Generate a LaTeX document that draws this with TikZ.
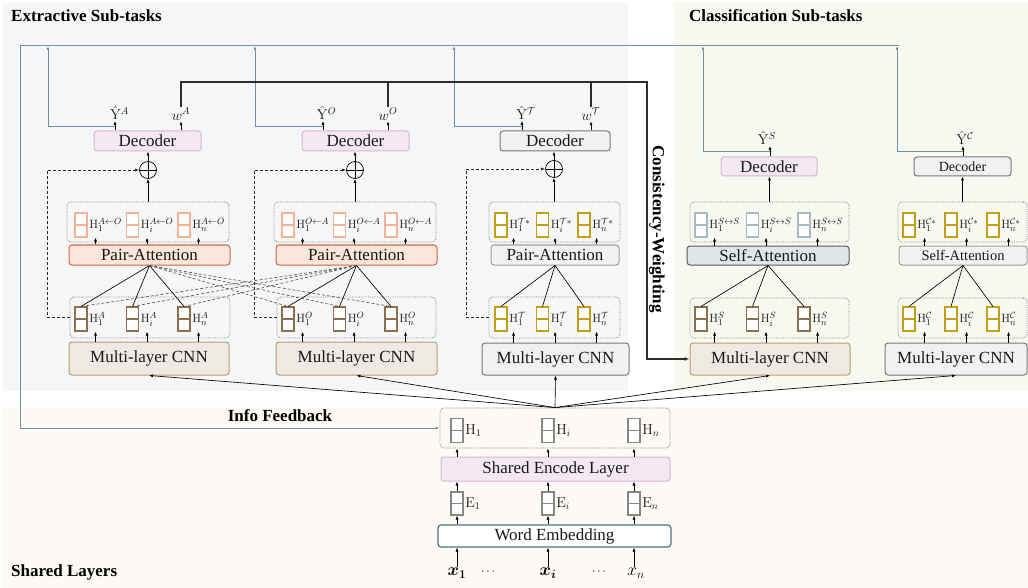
\documentclass[tikz,border=0pt]{standalone}
\usepackage{amsmath}
\usepackage[no-math]{fontspec}
\setmainfont{Liberation Serif}
\usetikzlibrary{arrows.meta,calc}

\definecolor{bgE}{RGB}{244,246,248}
\definecolor{bgC}{RGB}{246,249,239}
\definecolor{bgS}{RGB}{253,249,245}
\definecolor{pinkF}{RGB}{243,231,241}
\definecolor{pinkD}{RGB}{216,182,210}
\definecolor{grayF}{RGB}{241,241,241}
\definecolor{grayD}{RGB}{120,120,120}
\definecolor{lgrayD}{RGB}{160,160,160}
\definecolor{paF}{RGB}{250,229,219}
\definecolor{paD}{RGB}{204,104,64}
\definecolor{cnnF}{RGB}{238,234,227}
\definecolor{cnnD}{RGB}{186,156,112}
\definecolor{saF}{RGB}{225,229,232}
\definecolor{saD}{RGB}{85,90,95}
\definecolor{cBrown}{RGB}{140,112,78}
\definecolor{cSalmon}{RGB}{244,178,148}
\definecolor{cGold}{RGB}{196,158,20}
\definecolor{cBlue}{RGB}{168,184,198}
\definecolor{cGray}{RGB}{135,135,135}
\definecolor{weD}{RGB}{82,116,126}
\definecolor{fbC}{RGB}{112,146,156}
\definecolor{cwC}{RGB}{45,45,45}
\definecolor{txt}{RGB}{25,25,25}

\begin{document}
\begin{tikzpicture}[x=1pt,y=-1pt,
  box/.style={draw, rounded corners=3pt, line width=1pt, inner sep=0pt, text=txt, font=\fontsize{17}{20}\selectfont},
  dbox/.style={draw=cGray, densely dotted, line width=0.8pt, rounded corners=4pt, inner sep=0pt},
  cell/.style={draw=#1, fill=white, line width=1.1pt, minimum width=12pt, minimum height=24pt, inner sep=0pt,
    path picture={\draw[#1, line width=1.1pt] (path picture bounding box.west) -- (path picture bounding box.east);}},
  hl/.style={inner sep=0.5pt, text=txt, font=\fontsize{12.5}{14}\selectfont},
  sl/.style={inner sep=1pt, text=txt, font=\fontsize{14.4}{16}\selectfont},
  title/.style={font=\bfseries\fontsize{17}{20}\selectfont, text=black, inner sep=0pt},
  arr/.style={-{Latex[length=4pt,width=3pt]}, line width=0.65pt, black},
  ln/.style={line width=0.65pt, black},
  dsh/.style={line width=0.65pt, black!65, dash pattern=on 3pt off 2pt},
  dfb/.style={line width=0.8pt, black!85, dash pattern=on 3pt off 2pt, -{Latex[length=4pt,width=3pt]}},
  fb/.style={line width=1pt, fbC},
  fba/.style={line width=1pt, fbC, -{Latex[length=4pt,width=3pt]}},
  cw/.style={line width=1.6pt, cwC},
  oplus/.style={circle, draw, line width=0.7pt, minimum size=17pt, inner sep=0pt,
    path picture={\draw[line width=0.7pt] (path picture bounding box.north) -- (path picture bounding box.south)
      (path picture bounding box.west) -- (path picture bounding box.east);}}
]
\useasboundingbox (0,0) rectangle (1028,588);
% backgrounds
\fill[bgE] (3,3) rectangle (628,391);
\fill[bgC] (674,2) rectangle (1028,391);
\fill[bgS] (3,407) rectangle (1028,588);

% titles
\node[title,anchor=west] (tE) at (11,16) {Extractive Sub-tasks};
\node[title,anchor=west] (tC) at (689,16) {Classification Sub-tasks};
\node[title,anchor=west] (tS) at (11,572) {Shared Layers};
\node[title] (tI) at (280,416) {Info Feedback};
\node[title,rotate=-90] (tW) at (657,229) {Consistency-Weighting};

% decoders
\node[box,fill=pinkF,draw=pinkD,minimum width=107pt,minimum height=20pt] (decA) at (147.5,141) {Decoder};
\node[box,fill=pinkF,draw=pinkD,minimum width=107pt,minimum height=20pt] (decO) at (355.5,141) {Decoder};
\node[box,fill=grayF,draw=grayD,minimum width=110pt,minimum height=20pt] (decT) at (555,141) {Decoder};
\node[box,fill=pinkF,draw=pinkD,minimum width=96pt,minimum height=19pt] (decS) at (769,166.5) {Decoder};
\node[box,fill=grayF,draw=grayD,minimum width=97pt,minimum height=19pt,font=\fontsize{14}{16}\selectfont] (decC) at (962.5,166.5) {Decoder};

% oplus
\node[oplus] (oA) at (148,170) {};
\node[oplus] (oO) at (355,170) {};
\node[oplus] (oT) at (554,169) {};

% attention output boxes
\node[dbox,minimum width=162pt,minimum height=40pt] (attA) at (148,222) {};
\node[dbox,minimum width=162pt,minimum height=40pt] (attO) at (355,222) {};
\node[dbox,minimum width=131pt,minimum height=40pt] (attT) at (554.5,222) {};
\node[dbox,minimum width=159pt,minimum height=40pt] (attS) at (769.5,222) {};
\node[dbox,minimum width=129pt,minimum height=40pt] (attC) at (962.5,222) {};

% attention layers
\node[box,fill=paF,draw=paD,minimum width=161pt,minimum height=20pt] (paA) at (149.5,255) {Pair-Attention};
\node[box,fill=paF,draw=paD,minimum width=161pt,minimum height=20pt] (paO) at (356.5,255) {Pair-Attention};
\node[box,fill=grayF,draw=lgrayD,minimum width=128pt,minimum height=20pt] (paT) at (555,255) {Pair-Attention};
\node[box,fill=saF,draw=saD,minimum width=162pt,minimum height=19pt] (saS) at (768,255.5) {Self-Attention};
\node[box,fill=grayF,draw=lgrayD,minimum width=128pt,minimum height=19pt,font=\fontsize{14.5}{16}\selectfont] (saC) at (963,255.5) {Self-Attention};

% lower boxes
\node[dbox,minimum width=160pt,minimum height=41pt] (lowA) at (150,317.5) {};
\node[dbox,minimum width=159pt,minimum height=41pt] (lowO) at (356.5,317.5) {};
\node[dbox,minimum width=131pt,minimum height=41pt] (lowT) at (554.5,317.5) {};
\node[dbox,minimum width=159pt,minimum height=40pt] (lowS) at (769.5,318) {};
\node[dbox,minimum width=129pt,minimum height=40pt] (lowC) at (962.5,318) {};

% CNNs
\node[box,fill=cnnF,draw=cnnD,minimum width=160pt,minimum height=33pt] (cnnA) at (149,358.5) {Multi-layer CNN};
\node[box,fill=cnnF,draw=cnnD,minimum width=161pt,minimum height=33pt] (cnnO) at (356.5,358.5) {Multi-layer CNN};
\node[box,fill=grayF,draw=grayD,minimum width=147pt,minimum height=32pt] (cnnT) at (555.5,359) {Multi-layer CNN};
\node[box,fill=cnnF,draw=cnnD,minimum width=160pt,minimum height=32pt] (cnnS) at (770,359) {Multi-layer CNN};
\node[box,fill=grayF,draw=grayD,minimum width=142pt,minimum height=32pt] (cnnC) at (956,359) {Multi-layer CNN};

% cells
\foreach \cc/\xa/\dx/\cu/\cv/\su/\sw/\pn/\cn/\off in {
  A/81/51.5/cSalmon/cBrown/{A\leftarrow O}/{A}/paA/cnnA/8,
  O/288/51.5/cSalmon/cBrown/{O\leftarrow A}/{O}/paO/cnnO/8,
  T/501/41.5/cGold/cGold/{\mathcal{T}*}/{\mathcal{T}}/paT/cnnT/6,
  S/701/51.5/cBlue/cBrown/{S\leftrightarrow S}/{S}/saS/cnnS/7,
  C/909/42/cGold/cGold/{\mathcal{C}*}/{\mathcal{C}}/saC/cnnC/9}{
  \foreach \n/\s in {0/1,1/i,2/n}{
    \pgfmathsetmacro{\xx}{\xa+\n*\dx}
    \node[cell=\cu] (u\cc\n) at (\xx,225) {};
    \node[hl,anchor=west] at ($(u\cc\n.east)+(1,0)$) {$\mathrm{H}_{\s}^{\su}$};
    \node[cell=\cv] (l\cc\n) at (\xx,319) {};
    \node[hl,anchor=west] at ($(l\cc\n.east)+(1,0)$) {$\mathrm{H}_{\s}^{\sw}$};
    \coordinate (ua\cc\n) at ($(u\cc\n.east)+(\off,0)$);
    \draw[arr] (\pn.north -| ua\cc\n) -- (ua\cc\n |- u\cc\n.south);
    \draw[arr] (\cn.north -| ua\cc\n) -- (ua\cc\n |- l\cc\n.south);
    \draw[ln] (\pn.south) -- (l\cc\n.north);
  }
}
% cross pair-attention dashed
\foreach \n in {0,1,2}{
  \draw[dsh] (paA.south) -- (lO\n.north);
  \draw[dsh] (paO.south) -- (lA\n.north);
}

% attention -> oplus -> decoder
\draw[arr] (attA.north) -- (oA.south);
\draw[arr] (oA.north) -- (decA.south -| oA);
\draw[arr] (attO.north) -- (oO.south);
\draw[arr] (oO.north) -- (decO.south -| oO);
\draw[arr] (attT.north -| oT) -- (oT.south);
\draw[arr] (oT.north) -- (decT.south -| oT);
\draw[arr] (attS.north) -- (decS.south -| attS.north);
\draw[arr] (attC.north) -- (decC.south);

% dashed residuals
\draw[dfb] (lowA.west) -- ++(-22,0) |- (oA.west);
\draw[dfb] (lowO.west) -- ++(-22,0) |- (oO.west);
\draw[dfb] (lowT.west) -- ++(-22,0) |- (oT.west);

% output labels
\node[sl] (yA) at (119.5,113) {$\hat{\mathrm{Y}}^{A}$};
\node[sl] (wA) at (181,114) {$w^{A}$};
\node[sl] (yO) at (326.5,113) {$\hat{\mathrm{Y}}^{O}$};
\node[sl] (wO) at (388,114) {$w^{O}$};
\node[sl] (yT) at (526,113) {$\hat{\mathrm{Y}}^{\mathcal{T}}$};
\node[sl] (wT) at (591,114) {$w^{\mathcal{T}}$};
\node[sl] (yS) at (767,138) {$\hat{\mathrm{Y}}^{S}$};
\node[sl] (yC) at (965,138) {$\hat{\mathrm{Y}}^{\mathcal{C}}$};

\coordinate (jA) at (115,127);
\coordinate (jO) at (323,127);
\coordinate (jT) at (522,127);
\coordinate (jS) at (770,152);
\coordinate (jC) at (963,152);

\draw[arr] (decA.north -| jA) -- (jA |- yA.south);
\draw[arr] (decO.north -| jO) -- (jO |- yO.south);
\draw[arr] (decT.north -| jT) -- (jT |- yT.south);
\draw[arr] (decS.north -| jS) -- (jS |- yS.south);
\draw[arr] (decC.north -| jC) -- (jC |- yC.south);
\draw[arr] (decA.north -| wA) -- (wA.south);
\draw[arr] (decO.north -| wO) -- (wO.south);
\draw[arr] (decT.north -| wT) -- (wT.south);

% shared layers
\node[dbox,minimum width=230pt,minimum height=40pt] (shH) at (555,428) {};
\node[box,fill=pinkF,draw=pinkD,minimum width=229pt,minimum height=24pt] (sel) at (555.5,469) {Shared Encode Layer};
\node[box,fill=white,draw=weD,minimum width=233pt,minimum height=22pt,line width=1.2pt] (we) at (554.5,536) {Word Embedding};
\foreach \xa/\s/\n in {457/1/1,548/i/2,634/n/3}{
  \node[cell=cGray] (h\n) at (\xa,430.5) {};
  \node[sl,anchor=west,inner sep=0.5pt] at ($(h\n.east)+(1,0)$) {$\mathrm{H}_{\s}$};
  \node[cell=cGray,minimum height=23pt] (e\n) at (\xa,503.5) {};
  \node[sl,anchor=west,inner sep=0.5pt] at ($(e\n.east)+(1,0)$) {$\mathrm{E}_{\s}$};
  \draw[arr] (sel.north -| h\n) -- (shH.south -| h\n);
  \draw[arr] (e\n.north) -- (sel.south -| e\n);
  \draw[arr] (we.north -| e\n) -- (e\n.south);
}
\node[inner sep=1pt,font=\fontsize{17}{19}\selectfont] (x1) at (457,573) {$\boldsymbol{x}_{\boldsymbol{1}}$};
\node[inner sep=1pt,font=\fontsize{17}{19}\selectfont] (x2) at (548,573) {$\boldsymbol{x}_{\boldsymbol{i}}$};
\node[inner sep=1pt,font=\fontsize{17}{19}\selectfont] (x3) at (636,573) {$x_{n}$};
\node[font=\fontsize{13}{15}\selectfont] (d1) at (489,572) {$\cdots$};
\node[font=\fontsize{13}{15}\selectfont] (d2) at (600,572) {$\cdots$};
\foreach \n in {1,2,3}{
  \draw[arr] (x\n.north -| h\n) -- (we.south -| h\n);
}

% info feedback
\coordinate (fbL) at (20,46);
\coordinate (fbR) at (899,46);
\coordinate (vA) at (48,46);
\coordinate (vO) at (255,46);
\coordinate (vT) at (454,46);
\coordinate (vS) at (703,46);
\coordinate (vC) at (897,46);
\draw[fba] (fbR) -- (fbL) |- (shH.west);
\draw[fba] (jA) -| (vA);
\draw[fba] (jO) -| (vO);
\draw[fba] (jT) -| (vT);
\draw[fba] (jS) -| (vS);
\draw[fba] (jC) -| (vC);

% consistency weighting
\coordinate (cwK) at (647,82);
\draw[cw,-{Latex[length=5pt,width=4pt]}] (wA.north) |- (cwK) |- (cnnS.west);
\draw[cw] (wO.north) -- (wO.north |- cwK);
\draw[cw] (wT.north) -- (wT.north |- cwK);

% fan to CNNs
\foreach \t in {cnnA,cnnO,cnnT,cnnS,cnnC}{
  \draw[arr] (shH.north) -- (\t.south);
}
\end{tikzpicture}
\end{document}
